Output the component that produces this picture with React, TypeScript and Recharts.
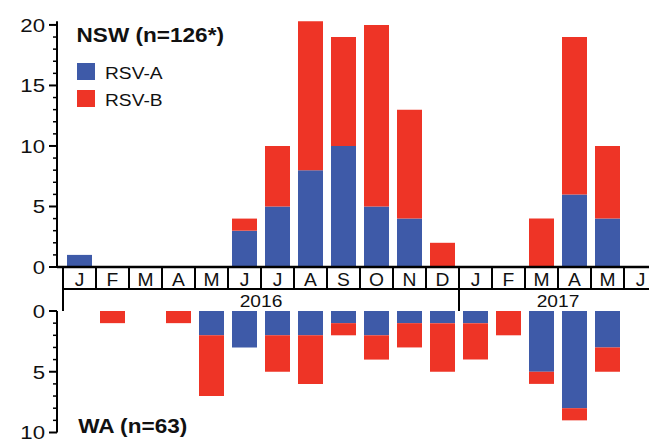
import React from 'react';
import { BarChart, Bar, XAxis, YAxis, Legend } from 'recharts';

// ---------- data ----------
const months = ["J", "F", "M", "A", "M", "J", "J", "A", "S", "O", "N", "D", "J", "F", "M", "A", "M", "J"];
const yearLabels = ["2016", "2017"];
const monthsInYear = [12, 6];

const nswA = [1, 0, 0, 0, 0, 3, 5, 8, 10, 5, 4, 0, 0, 0, 0, 6, 4, 0];
const nswB = [0, 0, 0, 0, 0, 1, 5, 12.3, 9, 15, 9, 2, 0, 0, 4, 13, 6, 0];
const waA = [0, 0, 0, 0, 2, 3, 2, 2, 1, 2, 1, 1, 1, 0, 5, 8, 3, 0];
const waB = [0, 1, 0, 1, 5, 0, 3, 4, 1, 2, 2, 4, 3, 2, 1, 1, 2, 0];

const seriesNames = ["RSV-A", "RSV-B"];
const nswTitle = "NSW (n=126*)";
const waTitle = "WA (n=63)";
const nswTicks = [0, 1, 2, 3, 4, 5, 6, 7, 8, 9, 10, 11, 12, 13, 14, 15, 16, 17, 18, 19, 20];
const waTicks = [0, 1, 2, 3, 4, 5, 6, 7, 8, 9, 10];

const yearOfMonth: string[] = yearLabels.flatMap((y, i) => Array(monthsInYear[i]).fill(y));
const nswData = months.map((m, i) => ({ month: m, year: yearOfMonth[i], a: nswA[i], b: nswB[i] }));
const waData = months.map((m, i) => ({ month: m, year: yearOfMonth[i], a: waA[i], b: waB[i] }));

// ---------- style ----------
const FONT = "'Liberation Sans', Arial, Helvetica, sans-serif";
const BLUE = "#3E5AA8";
const RED = "#EE3426";
const CHART_W = 680;
const CELL = 33;
const AXIS_W = 57;
const PAD_LEFT = 6;
const MARGIN_RIGHT = CHART_W - AXIS_W - PAD_LEFT - CELL * months.length;

const YTick = (props: any) => {
  const { x, y, payload } = props;
  const v = payload.value;
  const major = v % 5 === 0;
  return (
    <g>
      <line x1={x - (major ? 8 : 4)} x2={x} y1={y} y2={y} stroke="#000" strokeWidth={major ? 2 : 1.5} />
      {major && (
        <text
          transform={`translate(${x - 12},${y + 6.8}) scale(1.17,1)`}
          textAnchor="end"
          fontSize={19}
          fontFamily={FONT}
          fill="#111"
        >
          {v}
        </text>
      )}
    </g>
  );
};

const MonthTick = (props: any) => {
  const { x, y, payload, index } = props;
  const half = CELL / 2;
  return (
    <g>
      {index === 0 && <line x1={x - half} x2={x - half} y1={y} y2={y + 44} stroke="#000" strokeWidth={2} />}
      <line x1={x + half} x2={x + half} y1={y} y2={y + 22} stroke="#000" strokeWidth={2} />
      <line x1={x - half} x2={x + half} y1={y + 22} y2={y + 22} stroke="#000" strokeWidth={2} />
      <text
        transform={`translate(${x},${y + 19}) scale(1.07,1)`}
        textAnchor="middle"
        fontSize={18}
        fontFamily={FONT}
        fill="#111"
      >
        {payload.value}
      </text>
    </g>
  );
};

const YearTick = (props: any) => {
  const { x, y, payload, index } = props;
  const half = CELL / 2;
  if (index > 0 && yearOfMonth[index - 1] === payload.value) return <g />;
  let count = 0;
  for (let i = index; i < yearOfMonth.length && yearOfMonth[i] === payload.value; i++) count++;
  const left = x - half;
  const cx = left + (count * CELL) / 2;
  return (
    <g>
      {index > 0 && <line x1={left} x2={left} y1={y} y2={y + 22} stroke="#000" strokeWidth={2} />}
      <text
        transform={`translate(${cx},${y + 18.3}) scale(1.13,1)`}
        textAnchor="middle"
        fontSize={17}
        fontFamily={FONT}
        fill="#111"
      >
        {payload.value}
      </text>
    </g>
  );
};

const NswLegend = (props: any) => {
  const items = props.payload || [];
  return (
    <svg width={300} height={120} style={{ display: 'block', overflow: 'visible' }}>
      <text
        transform={`translate(76.5,41.7) scale(1.13,1)`}
        fontSize={20}
        fontWeight="bold"
        fontFamily={FONT}
        fill="#111"
      >
        {nswTitle}
      </text>
      {items.map((it: any, i: number) => (
        <g key={i}>
          <rect x={77} y={63 + i * 27} width={18} height={17} fill={it.color} />
          <text
            transform={`translate(105,${79 + i * 27}) scale(1.13,1)`}
            fontSize={17}
            fontFamily={FONT}
            fill="#111"
          >
            {it.value}
          </text>
        </g>
      ))}
    </svg>
  );
};

const WaLegend = () => (
  <svg width={300} height={167} style={{ display: 'block', overflow: 'visible' }}>
    <text
      transform={`translate(78.3,144) scale(1.13,1)`}
      fontSize={20}
      fontWeight="bold"
      fontFamily={FONT}
      fill="#111"
    >
      {waTitle}
    </text>
  </svg>
);

export default function App() {
  return (
    <div
      style={{
        position: 'fixed',
        left: 0,
        top: 0,
        width: 649,
        height: 444,
        overflow: 'hidden',
        background: '#fff',
      }}
    >
      <div style={{ position: 'absolute', left: 0, top: 0 }}>
        <BarChart
          width={CHART_W}
          height={311}
          data={nswData}
          margin={{ top: 21.3, right: MARGIN_RIGHT, bottom: 0, left: 0 }}
        >
          <XAxis
            dataKey="month"
            height={22}
            interval={0}
            tickSize={0}
            tickMargin={0}
            tickLine={false}
            axisLine={{ stroke: '#000', strokeWidth: 2.5 }}
            padding={{ left: PAD_LEFT, right: 0 }}
            tick={<MonthTick />}
          />
          <XAxis
            xAxisId="year"
            dataKey="year"
            height={22}
            interval={0}
            tickSize={0}
            tickMargin={0}
            tickLine={false}
            axisLine={false}
            padding={{ left: PAD_LEFT, right: 0 }}
            tick={<YearTick />}
          />
          <YAxis
            width={AXIS_W}
            domain={[0, 'dataMax']}
            ticks={nswTicks}
            interval={0}
            tickSize={0}
            tickMargin={0}
            tickLine={false}
            axisLine={{ stroke: '#000', strokeWidth: 2 }}
            tick={<YTick />}
          />
          <Legend
            layout="vertical"
            align="center"
            verticalAlign="middle"
            wrapperStyle={{ left: 0, top: 0, width: 300, height: 120 }}
            content={<NswLegend />}
          />
          <Bar dataKey="a" name={seriesNames[0]} stackId="s" fill={BLUE} barSize={25} isAnimationActive={false} />
          <Bar dataKey="b" name={seriesNames[1]} stackId="s" fill={RED} barSize={25} isAnimationActive={false} />
        </BarChart>
      </div>
      <div style={{ position: 'absolute', left: 0, top: 289 }}>
        <BarChart
          width={CHART_W}
          height={167}
          data={waData}
          margin={{ top: 22, right: MARGIN_RIGHT, bottom: 23.5, left: 0 }}
        >
          <XAxis
            dataKey="month"
            orientation="top"
            height={0}
            interval={0}
            tick={false}
            tickLine={false}
            axisLine={{ stroke: '#222', strokeWidth: 2 }}
            padding={{ left: PAD_LEFT, right: 0 }}
          />
          <YAxis
            width={AXIS_W}
            reversed
            domain={[0, 10]}
            ticks={waTicks}
            interval={0}
            tickSize={0}
            tickMargin={0}
            tickLine={false}
            axisLine={{ stroke: '#000', strokeWidth: 2 }}
            tick={<YTick />}
          />
          <Legend
            layout="vertical"
            align="center"
            verticalAlign="middle"
            wrapperStyle={{ left: 0, top: 0, width: 300, height: 167 }}
            content={<WaLegend />}
          />
          <Bar dataKey="a" name={seriesNames[0]} stackId="s" fill={BLUE} barSize={25} isAnimationActive={false} />
          <Bar dataKey="b" name={seriesNames[1]} stackId="s" fill={RED} barSize={25} isAnimationActive={false} />
        </BarChart>
      </div>
    </div>
  );
}
